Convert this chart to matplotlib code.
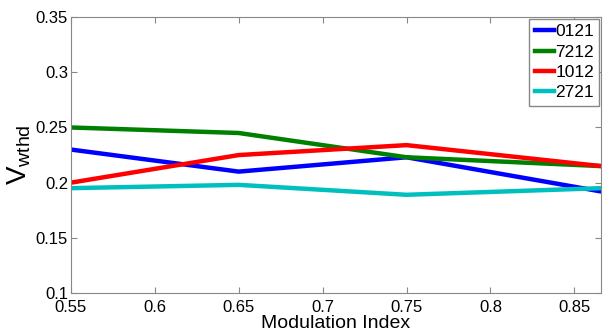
import matplotlib
matplotlib.use("Agg")
import matplotlib.pyplot as plt
from matplotlib import font_manager

names = {f.name for f in font_manager.fontManager.ttflist}
family = "Liberation Sans Narrow" if "Liberation Sans Narrow" in names else "Liberation Sans"
plt.rcParams["font.family"] = [family, "DejaVu Sans"]
plt.rcParams["mathtext.fontset"] = "custom"
plt.rcParams["mathtext.rm"] = family
plt.rcParams["mathtext.it"] = family

mod_index = [0.55, 0.65, 0.75, 0.866]
series_names = ["0121", "7212", "1012", "2721"]
v0121 = [0.230, 0.210, 0.223, 0.192]
v7212 = [0.250, 0.245, 0.223, 0.215]
v1012 = [0.200, 0.225, 0.234, 0.215]
v2721 = [0.195, 0.198, 0.189, 0.195]
colors = ["#0000ff", "#008000", "#ff0000", "#00bfbf"]

fig = plt.figure(figsize=(6.06, 3.36), dpi=100)
ax = fig.add_axes([0.117, 0.128, 0.875, 0.821])
for vals, name, c in zip([v0121, v7212, v1012, v2721], series_names, colors):
    ax.plot(mod_index, vals, color=c, linewidth=3.2, label=name)

ax.set_xlim(0.55, 0.866)
ax.set_ylim(0.1, 0.35)
ax.set_xticks([0.55, 0.6, 0.65, 0.7, 0.75, 0.8, 0.85])
ax.set_xticklabels(["0.55", "0.6", "0.65", "0.7", "0.75", "0.8", "0.85"])
ax.set_yticks([0.1, 0.15, 0.2, 0.25, 0.3, 0.35])
ax.set_yticklabels(["0.1", "0.15", "0.2", "0.25", "0.3", "0.35"])
ax.tick_params(direction="in", top=True, right=True, labelsize=12, length=4,
               color="#888888")
ax.tick_params(axis="x", pad=5)
ax.tick_params(axis="y", pad=2)
for s in ax.spines.values():
    s.set_color("#888888")
ax.set_xlabel("Modulation Index", fontsize=14, labelpad=0)
ax.set_ylabel(r"$\mathrm{V}_{\mathrm{wthd}}$", fontsize=20, labelpad=2)

leg = ax.legend(loc="upper right", fontsize=12.5, handlelength=1.1, handletextpad=0.1,
                borderpad=0.3, labelspacing=0.3, fancybox=False, framealpha=1,
                borderaxespad=0.1)
leg.get_frame().set_edgecolor("#888888")
leg.get_frame().set_linewidth(1.0)

fig.savefig("out.png", dpi=100, facecolor="white")
